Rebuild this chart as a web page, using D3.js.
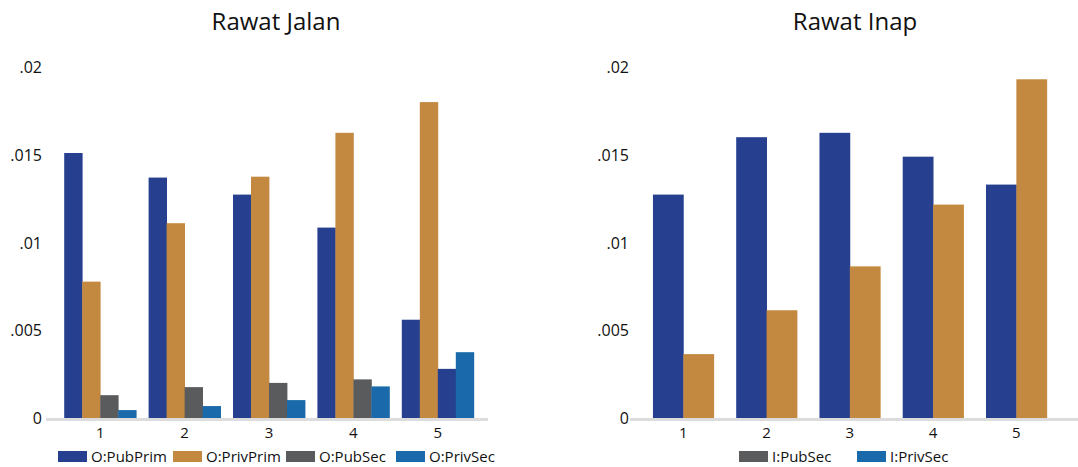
<!DOCTYPE html>
<html>
<head>
<meta charset="utf-8">
<script src="https://cdn.jsdelivr.net/npm/d3@7"></script>
<style>
  body { margin: 0; background: #fff; }
  svg { display: block; font-family: "Open Sans", sans-serif; }
</style>
</head>
<body>
<svg id="chart" width="1078" height="467"></svg>
<script>
// data
const groups = ["1", "2", "3", "4", "5"];
const yTicks = [0, 0.005, 0.01, 0.015, 0.02];
const yTickLabels = ["0", ".005", ".01", ".015", ".02"];

// Rawat Jalan (outpatient)
const outSeries = ["O:PubPrim", "O:PrivPrim", "O:PubSec", "O:PrivSec"];
const outPubPrim  = [0.0151, 0.0137, 0.01273, 0.01085, 0.0056];
const outPrivPrim = [0.00777, 0.0111, 0.01375, 0.01625, 0.0180];
const outPubSec   = [0.0013, 0.00176, 0.0020, 0.0022, 0.0028];
const outPrivSec  = [0.00045, 0.00068, 0.00102, 0.0018, 0.00375];

// Rawat Inap (inpatient); bars are drawn in navy/orange, legend shows grey/blue
const inSeries = ["I:PubSec", "I:PrivSec"];
const inPubSec  = [0.01273, 0.0160, 0.01625, 0.01489, 0.0133];
const inPrivSec = [0.00364, 0.00614, 0.00864, 0.01216, 0.0193];

const navy = "#26408f", orange = "#c48940", grey = "#5a5b5d", blue = "#1a6aab";

const svg = d3.select("#chart");

function panel(opt){
  const g = svg.append("g");
  const y = d3.scaleLinear().domain([0, 0.02]).range([418, 67]);
  const x = d3.scaleBand().domain(groups).range(opt.xr)
    .paddingInner(opt.pad).paddingOuter(opt.pad / 2);
  const inner = d3.scaleBand().domain(d3.range(opt.values.length)).range([0, x.bandwidth()]);

  // title
  g.append("text").attr("x", opt.titleX).attr("y", 30)
    .attr("text-anchor", "middle").attr("font-size", 24).attr("fill", "#111")
    .text(opt.title);

  // y labels
  g.selectAll(".yl").data(yTicks).join("text")
    .attr("x", opt.yLabelX).attr("y", d => y(d) + 6)
    .attr("text-anchor", "end").attr("font-size", 16).attr("fill", "#111")
    .text((d, i) => yTickLabels[i]);

  // bars
  opt.values.forEach((vals, s) => {
    g.selectAll(null).data(vals).join("rect")
      .attr("x", (d, i) => x(groups[i]) + inner(s))
      .attr("width", inner.bandwidth() + 0.4)
      .attr("y", d => y(d))
      .attr("height", d => y(0) - y(d))
      .attr("fill", (d, i) => (opt.override[s] && opt.override[s][i]) || opt.barColors[s]);
  });

  // baseline
  g.append("line").attr("x1", opt.axisX[0]).attr("x2", opt.axisX[1])
    .attr("y1", 419.5).attr("y2", 419.5)
    .attr("stroke", "#dcdcdc").attr("stroke-width", 3);

  // x tick labels
  const xa = g.append("g").attr("transform", "translate(0,421)")
    .call(d3.axisBottom(x).tickSize(0).tickPadding(6));
  xa.select(".domain").remove();
  xa.selectAll("text").attr("font-size", 15).attr("fill", "#111")
    .attr("font-family", "Open Sans, sans-serif");

  // legend
  const lg = g.selectAll(".lg").data(opt.legend).join("g")
    .attr("transform", d => `translate(${d.x},451)`);
  lg.append("rect").attr("width", 29).attr("height", 11).attr("fill", d => d.color);
  lg.append("text").attr("x", 33).attr("y", 11).attr("font-size", 15).attr("fill", "#111")
    .text(d => d.name);
}

panel({
  title: "Rawat Jalan", titleX: 276, yLabelX: 42,
  xr: [58, 480], pad: 0.147, axisX: [46, 488],
  values: [outPubPrim, outPrivPrim, outPubSec, outPrivSec],
  barColors: [navy, orange, grey, blue],
  override: { 2: { 4: navy } },
  legend: [
    { name: outSeries[0], color: navy, x: 58 },
    { name: outSeries[1], color: orange, x: 173 },
    { name: outSeries[2], color: grey, x: 286 },
    { name: outSeries[3], color: blue, x: 396 }
  ]
});

panel({
  title: "Rawat Inap", titleX: 855, yLabelX: 629,
  xr: [641.7, 1058], pad: 0.27, axisX: [630, 1078],
  values: [inPubSec, inPrivSec],
  barColors: [navy, orange],
  override: {},
  legend: [
    { name: inSeries[0], color: grey, x: 739 },
    { name: inSeries[1], color: blue, x: 857 }
  ]
});
</script>
</body>
</html>
